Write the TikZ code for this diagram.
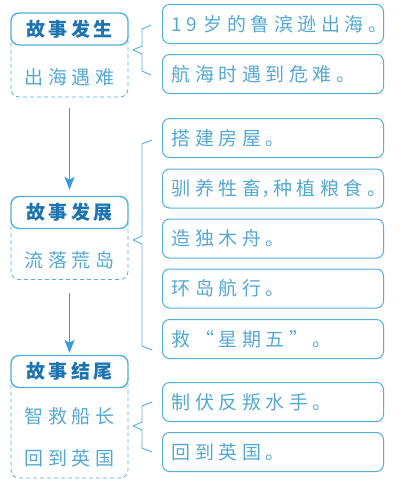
\documentclass[tikz,border=0pt]{standalone}
\usepackage{fontspec}
\setmainfont{Noto Sans CJK SC}
\newfontfamily\bodyfont{Noto Sans CJK SC}[LetterSpace=24]
\newfontfamily\headfont{Noto Sans CJK SC}[LetterSpace=18]
\usetikzlibrary{shapes,arrows.meta}

\definecolor{linecol}{HTML}{52B0DA}
\definecolor{headcol}{HTML}{1C74B0}
\definecolor{textcol}{HTML}{55A8D0}
\definecolor{arrcol}{HTML}{3A98DC}

\newcommand{\narrowcomma}{\makebox[12pt][l]{，}}

\tikzset{
  rbox/.style={draw=linecol, line width=1pt, rounded corners=7pt, anchor=west,
    minimum height=39pt, text width=203pt, inner xsep=9pt, align=left,
    font=\bodyfont\fontsize{19pt}{19pt}\selectfont, text=textcol},
  headbox/.style={draw=linecol, line width=1.4pt, rounded corners=8pt, fill=white,
    minimum width=117pt, minimum height=32pt, inner sep=0pt,
    font=\headfont\bfseries\fontsize{19pt}{19pt}\selectfont, text=headcol},
  groupbox/.style={draw=linecol, line width=0.8pt, dash pattern=on 4pt off 3pt,
    rounded corners=8pt, minimum width=117pt, inner sep=0pt},
  subtext/.style={font=\bodyfont\fontsize{19pt}{19pt}\selectfont, text=textcol},
  bracket/.style={draw=linecol, line width=0.9pt},
  flow/.style={-{Stealth[length=13pt,width=10pt,inset=3pt]}, draw=arrcol, line width=1.5pt}
}

\begin{document}
\begin{tikzpicture}[x=1pt,y=-1pt]
\useasboundingbox (0,0) rectangle (407,483);

% left column
\node[groupbox, minimum height=68pt] (g1) at (69.5,63) {};
\node[headbox] (t1) at (69.5,29) {故事发生};
\node[subtext] (s1) at (69.5,77) {出海遇难};

\node[groupbox, minimum height=67pt] (g2) at (69.5,246) {};
\node[headbox] (t2) at (69.5,212.5) {故事发展};
\node[subtext] (s2) at (69.5,260) {流落荒岛};

\node[groupbox, minimum height=107pt] (g3) at (69.5,424.5) {};
\node[headbox] (t3) at (69.5,371.5) {故事结尾};
\node[subtext] (s3) at (69.5,416) {智救船长};
\node[subtext] (s4) at (69.5,458) {回到英国};

\draw[flow, shorten <=11pt, shorten >=6pt] (g1.south) -- (t2.north);
\draw[flow, shorten <=13pt, shorten >=2pt] (g2.south) -- (t3.north);

% right column
\node[rbox] (r1) at (162,24) {19~岁的鲁滨逊出海。};
\node[rbox] (r2) at (162,74) {航海时遇到危难。};

\node[rbox] (r3) at (162,138) {搭建房屋。};
\node[rbox] (r4) at (162,188.5) {驯养牲畜\narrowcomma 种植粮食。};
\node[rbox] (r5) at (162,238.5) {造独木舟。};
\node[rbox] (r6) at (162,288.5) {环岛航行。};
\node[rbox] (r7) at (162,339) {救“星期五”。};

\node[rbox] (r8) at (162,402) {制伏反叛水手。};
\node[rbox] (r9) at (162,452) {回到英国。};

% brackets
\coordinate (b1) at (133,50);
\coordinate (b2) at (133,240);
\coordinate (b3) at (133,426);
\draw[bracket] (b1) -- ++(9,-4) -- ++(0,-17) -- ++(9,-4);
\draw[bracket] (b1) -- ++(9,4) -- ++(0,17) -- ++(9,4);
\draw[bracket] (b2) -- ++(9,-4) -- ++(0,-92) -- ++(10,-4);
\draw[bracket] (b2) -- ++(9,4) -- ++(0,102) -- ++(10,4);
\draw[bracket] (b3) -- ++(9,-4) -- ++(0,-16) -- ++(10,-4);
\draw[bracket] (b3) -- ++(9,4) -- ++(0,18) -- ++(10,4);

\end{tikzpicture}
\end{document}
